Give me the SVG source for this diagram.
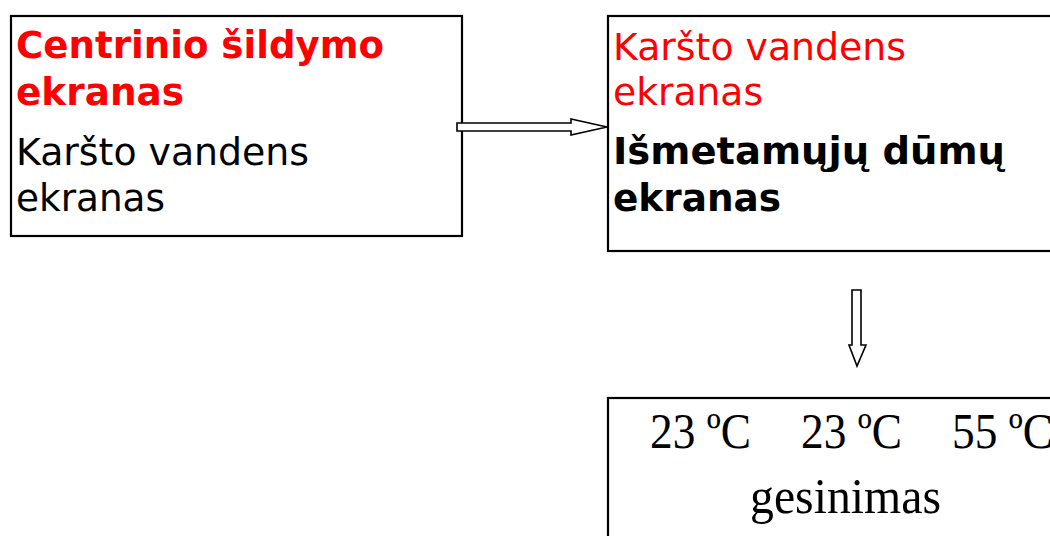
<svg xmlns="http://www.w3.org/2000/svg" width="1050" height="536" viewBox="0 0 1050 536">
<style>
.box{fill:#fff;stroke:#000;stroke-width:2.2}
.sans{font-family:"DejaVu Sans","Liberation Sans",sans-serif;font-size:37px}
.b{font-weight:bold}
.red{fill:#ff0000}
.blk{fill:#000}
.serif{font-family:"Liberation Serif","Times New Roman",serif;font-size:50px;fill:#000}
.arrow{fill:#fff;stroke:#000;stroke-width:1.6;stroke-linejoin:miter}
</style>
<rect width="1050" height="536" fill="#fff"/>
<g id="node-centrinio">
<rect class="box" x="11" y="16" width="451" height="220"/>
<text class="sans b red" x="16" y="58" textLength="368" lengthAdjust="spacingAndGlyphs">Centrinio šildymo</text>
<text class="sans b red" x="16" y="105" textLength="168" lengthAdjust="spacingAndGlyphs">ekranas</text>
<text class="sans blk" x="16" y="165" textLength="293" lengthAdjust="spacingAndGlyphs">Karšto vandens</text>
<text class="sans blk" x="16" y="211" textLength="149" lengthAdjust="spacingAndGlyphs">ekranas</text>
</g>
<g id="node-karsto">
<rect class="box" x="608" y="16" width="500" height="235"/>
<text class="sans red" x="613" y="60" textLength="293" lengthAdjust="spacingAndGlyphs">Karšto vandens</text>
<text class="sans red" x="613" y="105" textLength="150" lengthAdjust="spacingAndGlyphs">ekranas</text>
<text class="sans b blk" x="613" y="164" textLength="392" lengthAdjust="spacingAndGlyphs">Išmetamųjų dūmų</text>
<text class="sans b blk" x="613" y="211" textLength="168" lengthAdjust="spacingAndGlyphs">ekranas</text>
</g>
<g id="node-gesinimas">
<rect class="box" x="608" y="398" width="500" height="200"/>
<text class="serif" x="650" y="448" textLength="101" lengthAdjust="spacingAndGlyphs">23 ºC</text>
<text class="serif" x="801" y="448" textLength="101" lengthAdjust="spacingAndGlyphs">23 ºC</text>
<text class="serif" x="952" y="448" textLength="101" lengthAdjust="spacingAndGlyphs">55 ºC</text>
<text class="serif" x="750" y="513" textLength="191" lengthAdjust="spacingAndGlyphs">gesinimas</text>
</g>
<g id="connectors">
<path class="arrow" d="M457,123 L571,123 L571,119 L607,127 L571,135 L571,131 L457,131 Z"/>
<path class="arrow" d="M852,290 L861,290 L861,345 L866,345 L857,366 L849,345 L852,345 Z"/>
</g>
</svg>
